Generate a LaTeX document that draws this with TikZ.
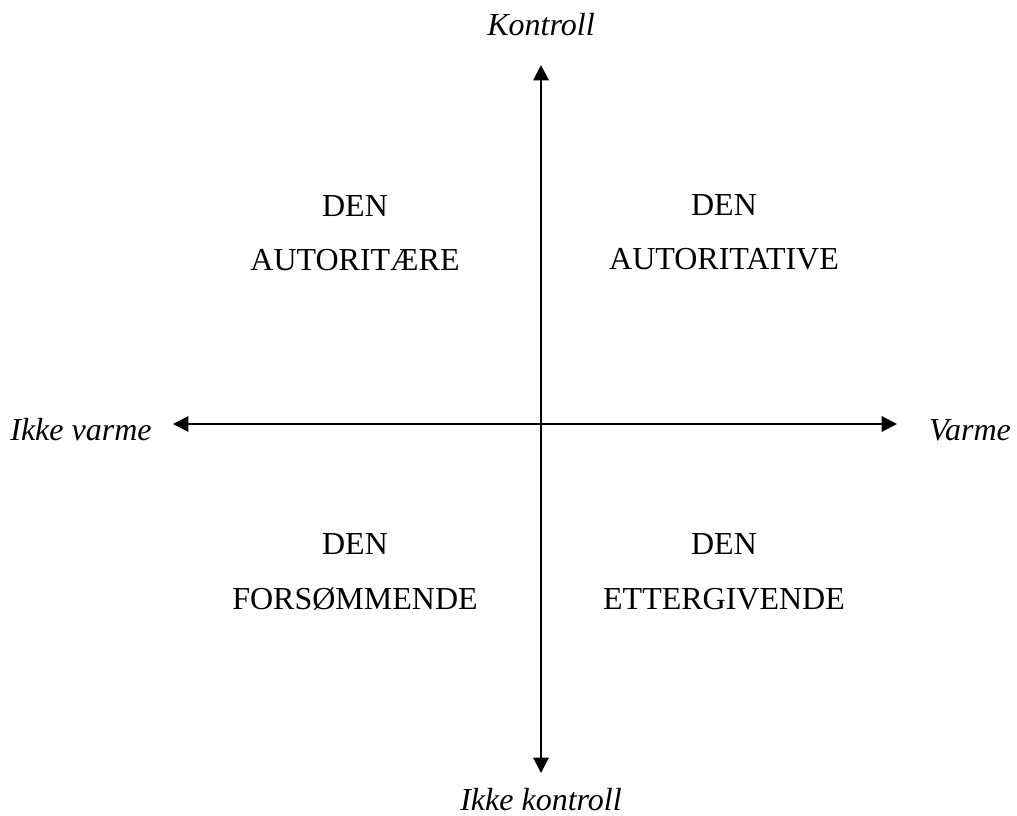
\documentclass[tikz,border=0pt]{standalone}
\usepackage{fontspec}
\setmainfont{Liberation Serif}
\usetikzlibrary{arrows.meta, positioning}

\begin{document}
\begin{tikzpicture}[
        x=0.75pt, y=-0.75pt,
        axis/.style={line width=1.5pt, {Triangle[length=11.5pt, width=11.5pt]}-{Triangle[length=11.5pt, width=11.5pt]}},
        pole/.style={font=\fontsize{24}{29}\selectfont\itshape, inner sep=0pt, anchor=base},
        parenting/.style={font=\fontsize{24}{41}\selectfont, align=center, inner sep=0pt, anchor=base}
    ]
        \useasboundingbox (0,0) rectangle (1017,816);

        % AKSER
        \coordinate (top) at (541,65);
        \coordinate (bottom) at (541,773);
        \coordinate (left) at (173,424);
        \coordinate (right) at (897,424);

        \draw[axis] (bottom) -- (top);
        \draw[axis] (left) -- (right);

        % ENDEPUNKTER
        \node[pole] (kontroll) at (541,36) {Kontroll};
        \node[pole] (ikke_kontroll) at (541,810) {Ikke kontroll};
        \node[pole] (ikke_varme) at (81,440) {Ikke varme};
        \node[pole] (varme) at (970,440) {Varme};

        % KVADRANTER
        \node[parenting] (autoritaere) at (355,271) {DEN\\AUTORITÆRE};
        \node[parenting] (autoritative) at (724,270) {DEN\\AUTORITATIVE};
        \node[parenting] (forsommende) at (355,609) {DEN\\FORSØMMENDE};
        \node[parenting] (ettergivende) at (724,609) {DEN\\ETTERGIVENDE};

    \end{tikzpicture}
\end{document}
